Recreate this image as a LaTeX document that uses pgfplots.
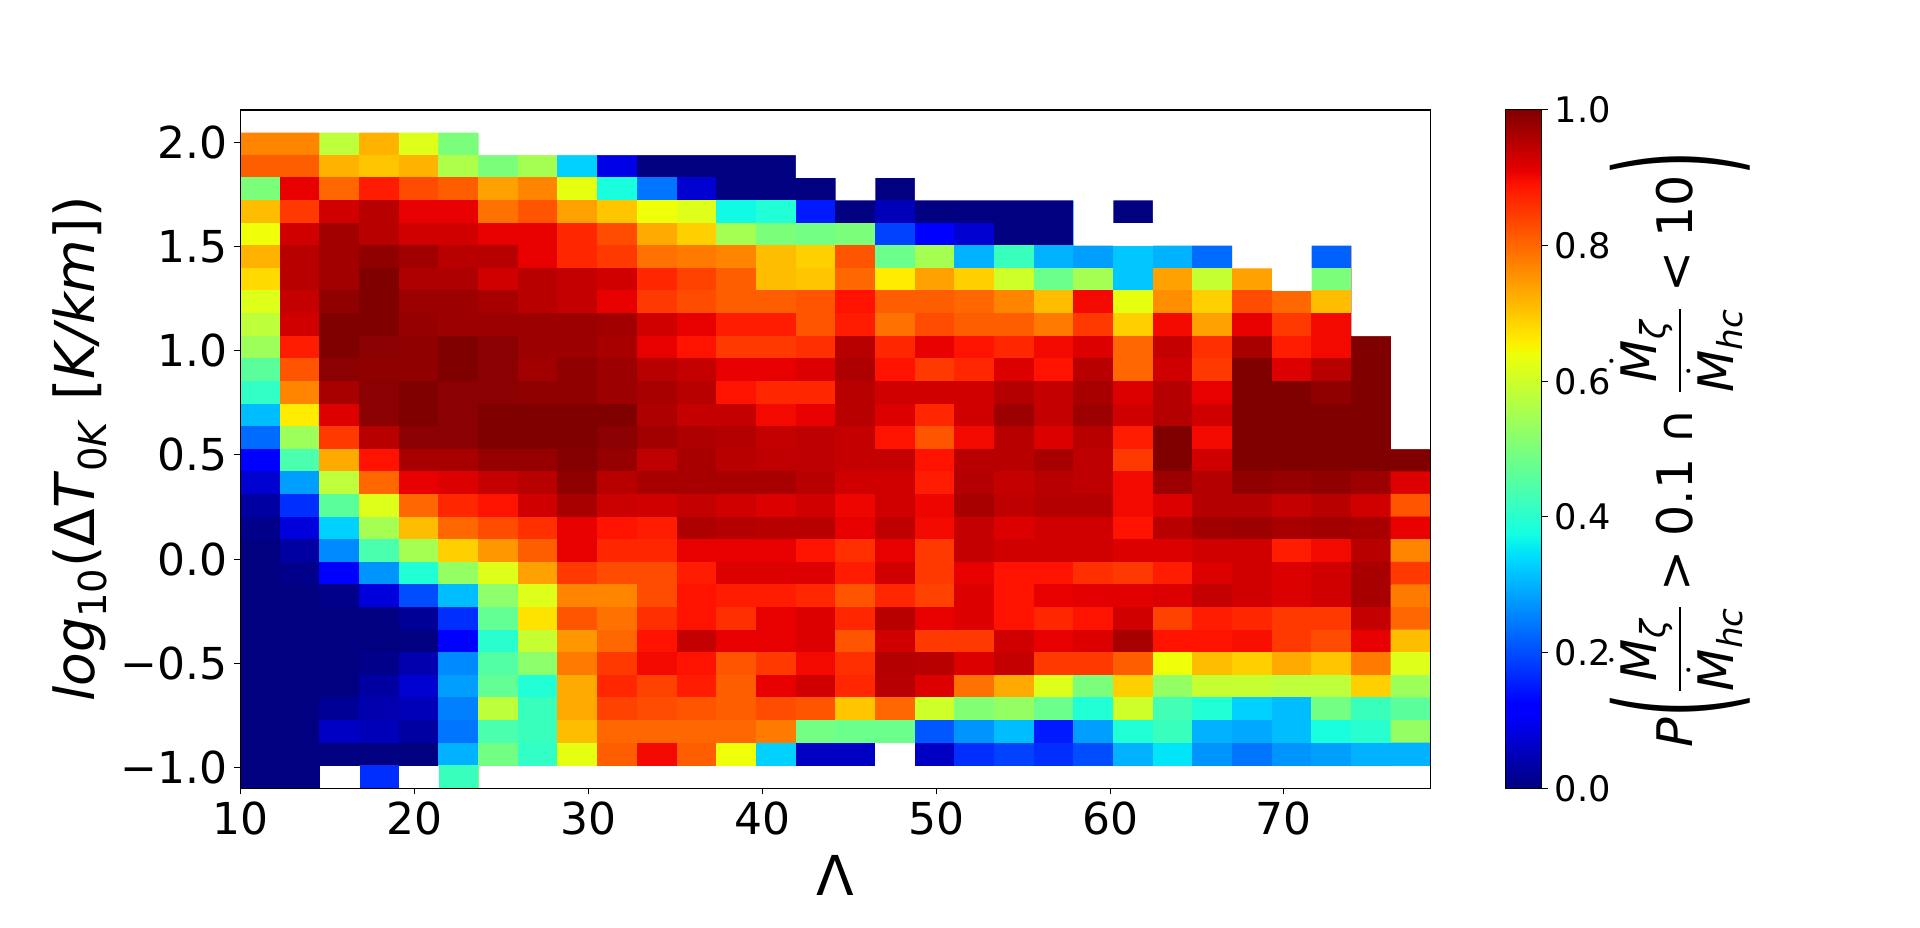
\documentclass[border=0pt]{standalone}
\usepackage{amsmath}
\usepackage{graphicx}
\usepackage{fontspec}
\setmainfont{DejaVu Sans}
\usepackage{pgfplots}
\pgfplotsset{compat=1.18,
 colormap={mpljet}{rgb(0pt)=(0,0,.5); rgb(11pt)=(0,0,1); rgb(12.5pt)=(0,0,1); rgb(34pt)=(0,.86,1); rgb(35pt)=(0,.9,.968); rgb(37.5pt)=(.08,1,.887); rgb(64pt)=(.935,1,.032); rgb(65pt)=(.968,.963,0); rgb(66pt)=(1,.926,0); rgb(89pt)=(1,.074,0); rgb(91pt)=(.909,0,0); rgb(100pt)=(.5,0,0)},
 colormap name=mpljet}
\newcommand{\mdot}[1]{\dot{\text{\textit{M}}}_{\text{\textit{#1}}}}
\newcommand{\bigp}[1]{\vcenter{\hbox{\resizebox*{12pt}{70pt}{#1}}}}
\begin{document}
\begin{tikzpicture}
\useasboundingbox (-120.25pt,-69.35pt) rectangle +(960pt,463.5pt);
\begin{axis}[
 at={(0pt,0pt)}, anchor=south west, scale only axis, axis on top,
 width=595.1pt, height=339.15pt,
 xmin=10, xmax=78.44, ymin=-1.10, ymax=2.155,
 xtick={10,20,30,40,50,60,70},
 ytick={-1,-0.5,0,0.5,1,1.5,2},
 yticklabels={−1.0,−0.5,0.0,0.5,1.0,1.5,2.0},
 xticklabels={10,20,30,40,50,60,70},
 tick align=outside, xtick pos=bottom, ytick pos=left,
 major tick length=3pt, axis line style={line width=0.55pt}, tick style={line width=0.5pt,black},
 tick label style={font=\fontsize{22}{26}\selectfont},
 xlabel={Λ}, ylabel={\textit{log}\textsubscript{10}(Δ\textit{T}\textsubscript{0\textit{K}} [\textit{K/km}])},
 label style={font=\fontsize{27.5}{32}\selectfont},
 xlabel style={yshift=-3.5pt},
 point meta min=0, point meta max=1,
]
\addplot[matrix plot*, mesh/cols=32, point meta=explicit]
 table[row sep=\\, header=false, meta index=0,
  x expr={10+2.2813*(mod(\coordindex,32)-1.5)},
  y expr={2.155-0.1085*(floor(\coordindex/32)+1.5)}]{
0\\0\\.77\\.77\\.58\\.72\\.62\\.5\\.5\\.55\\.33\\.09\\0\\0\\0\\0\\0\\0\\0\\0\\0\\0\\0\\.28\\0\\.30\\.23\\.74\\.80\\.22\\1\\1\\
0\\0\\.81\\.81\\.72\\.70\\.72\\.56\\.5\\.55\\.33\\.09\\0\\0\\0\\0\\0\\0\\0\\0\\0\\0\\0\\.28\\0\\.30\\.23\\.74\\.80\\.22\\1\\1\\
0\\0\\.5\\.91\\.80\\.88\\.83\\.81\\.74\\.77\\.63\\.38\\.24\\.07\\0\\0\\0\\0\\0\\0\\0\\0\\0\\.28\\0\\.30\\.23\\.74\\.80\\.22\\1\\1\\
0\\0\\.71\\.85\\.93\\.95\\.91\\.91\\.79\\.82\\.74\\.70\\.64\\.62\\.37\\.39\\.15\\0\\.05\\0\\0\\0\\0\\.28\\0\\.30\\.23\\.74\\.80\\.22\\1\\1\\
0\\0\\.64\\.93\\.97\\.95\\.93\\.93\\.91\\.91\\.87\\.83\\.73\\.69\\.55\\.50\\.49\\.50\\.19\\.11\\.07\\0\\0\\.28\\.32\\.30\\.23\\.74\\.80\\.22\\1\\1\\
0\\0\\.72\\.95\\.97\\.985\\.97\\.95\\.95\\.91\\.87\\.85\\.79\\.78\\.77\\.71\\.69\\.82\\.48\\.55\\.30\\.42\\.30\\.28\\.32\\.30\\.23\\.74\\.80\\.22\\1\\1\\
0\\0\\.68\\.95\\.97\\1\\.96\\.96\\.93\\.95\\.94\\.93\\.87\\.84\\.81\\.71\\.70\\.80\\.66\\.74\\.69\\.60\\.48\\.55\\.32\\.74\\.59\\.74\\.80\\.5\\1\\1\\
0\\0\\.62\\.94\\.985\\1\\.975\\.975\\.965\\.95\\.94\\.91\\.85\\.83\\.81\\.81\\.82\\.89\\.81\\.81\\.80\\.77\\.71\\.90\\.63\\.76\\.69\\.83\\.80\\.71\\1\\1\\
0\\0\\.58\\.93\\1\\1\\.98\\.975\\.975\\.975\\.975\\.97\\.93\\.91\\.88\\.88\\.82\\.88\\.79\\.83\\.81\\.81\\.78\\.85\\.69\\.90\\.74\\.91\\.85\\.90\\1\\1\\
0\\0\\.54\\.88\\1\\.99\\.985\\1\\.99\\.975\\.975\\.965\\.91\\.89\\.85\\.85\\.86\\.95\\.87\\.91\\.89\\.87\\.90\\.92\\.80\\.94\\.86\\.965\\.88\\.90\\1\\1\\
0\\0\\.46\\.82\\.99\\.985\\.985\\1\\.99\\.97\\.985\\.975\\.95\\.94\\.91\\.91\\.92\\.96\\.89\\.85\\.87\\.92\\.89\\.95\\.80\\.93\\.85\\1\\.92\\.95\\1\\1\\
0\\0\\.41\\.77\\.965\\.99\\1\\.99\\.99\\.985\\.985\\.975\\.965\\.95\\.89\\.87\\.87\\.95\\.93\\.93\\.93\\.955\\.94\\.965\\.92\\.955\\.91\\1\\1\\.985\\1\\1\\
0\\0\\.31\\.66\\.92\\.99\\1\\.99\\1\\1\\1\\1\\.96\\.94\\.94\\.90\\.91\\.95\\.92\\.87\\.93\\.975\\.94\\.975\\.93\\.955\\.93\\1\\1\\1\\1\\1\\
0\\0\\.23\\.54\\.85\\.95\\.99\\.99\\1\\1\\1\\.99\\.97\\.96\\.955\\.94\\.945\\.94\\.89\\.82\\.90\\.95\\.92\\.95\\.88\\1\\.90\\1\\1\\1\\1\\1\\
0\\0\\.11\\.44\\.73\\.89\\.965\\.965\\.98\\.98\\.995\\.98\\.945\\.965\\.95\\.945\\.945\\.94\\.94\\.89\\.95\\.95\\.965\\.945\\.85\\1\\.93\\1\\1\\1\\1\\1\\
0\\0\\.07\\.28\\.58\\.80\\.91\\.92\\.94\\.95\\.985\\.95\\.965\\.965\\.965\\.965\\.95\\.93\\.93\\.88\\.955\\.94\\.95\\.945\\.90\\.975\\.955\\.985\\.98\\.985\\.975\\.92\\
0\\0\\.03\\.17\\.46\\.62\\.80\\.87\\.89\\.93\\.965\\.935\\.93\\.94\\.93\\.92\\.93\\.905\\.93\\.905\\.965\\.945\\.955\\.955\\.90\\.92\\.955\\.955\\.94\\.95\\.93\\.82\\
0\\0\\.01\\.08\\.33\\.55\\.71\\.80\\.83\\.86\\.91\\.89\\.88\\.96\\.955\\.95\\.95\\.91\\.945\\.90\\.94\\.92\\.93\\.93\\.89\\.95\\.97\\.975\\.965\\.97\\.965\\.91\\
0\\0\\0\\.03\\.26\\.44\\.55\\.69\\.75\\.81\\.91\\.87\\.87\\.91\\.91\\.91\\.89\\.86\\.91\\.85\\.94\\.93\\.93\\.93\\.92\\.92\\.93\\.93\\.88\\.90\\.95\\.77\\
0\\0\\0\\.01\\.11\\.27\\.39\\.53\\.62\\.74\\.85\\.83\\.83\\.88\\.92\\.92\\.92\\.88\\.93\\.85\\.91\\.89\\.89\\.86\\.85\\.88\\.92\\.93\\.92\\.93\\.965\\.85\\
0\\0\\0\\0\\.01\\.08\\.20\\.31\\.52\\.62\\.77\\.77\\.83\\.89\\.88\\.88\\.87\\.82\\.87\\.84\\.92\\.89\\.91\\.915\\.915\\.92\\.94\\.93\\.92\\.93\\.965\\.78\\
0\\0\\0\\0\\0\\0\\.02\\.17\\.47\\.67\\.82\\.79\\.86\\.89\\.86\\.91\\.92\\.87\\.95\\.91\\.92\\.89\\.87\\.89\\.93\\.84\\.88\\.87\\.85\\.85\\.94\\.80\\
0\\0\\0\\0\\0\\0\\0\\.11\\.40\\.59\\.75\\.80\\.89\\.94\\.91\\.91\\.92\\.82\\.93\\.85\\.85\\.93\\.91\\.92\\.965\\.89\\.89\\.895\\.85\\.83\\.91\\.71\\
0\\0\\0\\0\\0\\.01\\.04\\.26\\.45\\.52\\.78\\.85\\.90\\.89\\.82\\.85\\.90\\.86\\.955\\.95\\.92\\.94\\.85\\.85\\.81\\.64\\.71\\.69\\.73\\.70\\.78\\.62\\
0\\0\\0\\0\\0\\.03\\.07\\.28\\.47\\.39\\.73\\.87\\.84\\.88\\.81\\.91\\.93\\.87\\.95\\.92\\.79\\.73\\.62\\.50\\.69\\.53\\.59\\.59\\.58\\.58\\.69\\.54\\
0\\0\\0\\0\\.02\\.04\\.05\\.25\\.58\\.42\\.73\\.84\\.83\\.82\\.81\\.83\\.82\\.70\\.80\\.60\\.51\\.53\\.48\\.39\\.60\\.43\\.39\\.33\\.31\\.49\\.42\\.46\\
0\\0\\0\\0\\.06\\.05\\.03\\.24\\.44\\.42\\.71\\.80\\.80\\.80\\.80\\.78\\.49\\.48\\.48\\.21\\.27\\.31\\.15\\.28\\.39\\.42\\.30\\.29\\.31\\.38\\.40\\.53\\
0\\0\\0\\0\\0\\0\\0\\.30\\.49\\.41\\.63\\.81\\.90\\.81\\.64\\.33\\.06\\.06\\.06\\.06\\.17\\.19\\.17\\.20\\.30\\.35\\.27\\.24\\.27\\.28\\.30\\.30\\
0\\0\\0\\0\\0\\.17\\0\\.42\\.49\\.41\\.63\\.81\\.90\\.81\\.64\\.33\\.06\\.06\\.06\\.06\\.17\\.19\\.17\\.20\\.30\\.35\\.27\\.24\\.27\\.28\\.30\\.30\\
0\\0\\0\\0\\0\\0\\0\\0\\0\\0\\0\\0\\0\\0\\0\\0\\0\\0\\0\\0\\0\\0\\0\\0\\0\\0\\0\\0\\0\\0\\0\\0\\
0\\0\\0\\0\\0\\0\\0\\0\\0\\0\\0\\0\\0\\0\\0\\0\\0\\0\\0\\0\\0\\0\\0\\0\\0\\0\\0\\0\\0\\0\\0\\0\\
};
% cells with no data stay white
\addplot[fill=white,draw=none] coordinates {(10,2.155)(10,2.0465)(23.688,2.0465)(23.688,1.938)(41.938,1.938)(41.938,1.8295)(44.220,1.8295)(44.220,1.721)(46.501,1.721)(46.501,1.8295)(48.782,1.8295)(48.782,1.721)(57.907,1.721)(57.907,1.504)(60.189,1.504)(60.189,1.721)(62.470,1.721)(62.470,1.504)(67.033,1.504)(67.033,1.3955)(69.314,1.3955)(69.314,1.287)(71.595,1.287)(71.595,1.504)(73.876,1.504)(73.876,1.07)(76.158,1.07)(76.158,0.5275)(78.44,0.5275)(78.44,2.155)} --cycle;
\addplot[fill=white,draw=none] coordinates {(60.189,1.504)(62.470,1.504)(62.470,1.6125)(60.189,1.6125)} --cycle;
\addplot[fill=white,draw=none] coordinates {(14.563,-1.10)(16.844,-1.10)(16.844,-0.9915)(14.563,-0.9915)} --cycle;
\addplot[fill=white,draw=none] coordinates {(19.125,-1.10)(21.407,-1.10)(21.407,-0.9915)(19.125,-0.9915)} --cycle;
\addplot[fill=white,draw=none] coordinates {(23.688,-1.10)(78.44,-1.10)(78.44,-0.9915)(23.688,-0.9915)} --cycle;
\addplot[fill=white,draw=none] coordinates {(46.501,-0.9915)(48.782,-0.9915)(48.782,-0.883)(46.501,-0.883)} --cycle;
\end{axis}
% colour bar
\begin{axis}[
 at={(632.25pt,0pt)}, anchor=south west, scale only axis, axis on top,
 width=18.3pt, height=339.15pt,
 xmin=0, xmax=1, ymin=0, ymax=1,
 xtick=\empty, ytick={0,0.2,0.4,0.6,0.8,1},
 yticklabels={0.0,0.2,0.4,0.6,0.8,1.0},
 ytick pos=right, yticklabel pos=right,
 yticklabel style={font=\fontsize{17.6}{20}\selectfont},
 tick align=outside, major tick length=3pt, tick style={line width=0.5pt,black}, axis line style={line width=0.5pt},
 point meta min=0, point meta max=1,
]
\addplot[surf, shader=interp, mesh/cols=2, point meta=explicit]
 table[meta=c]{
x y c
0 0 0
1.5 0 0
0 1 1
1.5 1 1
0 1.05 1
1.5 1.05 1
};
\end{axis}
\node[rotate=90,font=\fontsize{24.5}{30}\selectfont] at (719.75pt,169.6pt) {$\text{\textit{P}}\bigp{(}\dfrac{\mdot{ζ}}{\mdot{hc}}\;\text{>}\;\text{0.1}\;\text{∩}\;\dfrac{\mdot{ζ}}{\mdot{hc}}\;\text{<}\;\text{10}\bigp{)}$};
\end{tikzpicture}
\end{document}
